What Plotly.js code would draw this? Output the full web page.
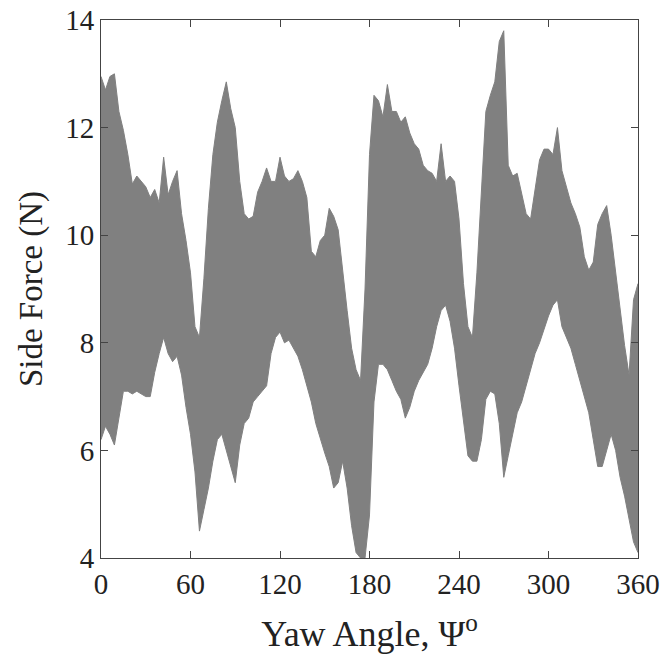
<!DOCTYPE html>
<html>
<head>
<meta charset="utf-8">
<script src="https://cdn.plot.ly/plotly-3.0.1.min.js"></script>
<style>html,body{margin:0;padding:0;background:#fff;}#chart{width:667px;height:667px;}</style>
</head>
<body>
<div id="chart"></div>
<script>
// Yaw angle samples (degrees)
var yawAngle = [0,3,6,9,12,15,18,21,24,27,30,33,36,39,42,45,48,51,54,57,
  60,63,66,69,72,75,78,81,84,87,90,93,96,99,102,105,108,111,114,117,
  120,123,126,129,132,135,138,141,144,147,150,153,156,159,162,165,168,171,174,177,
  180,183,186,189,192,195,198,201,204,207,210,213,216,219,222,225,228,231,234,237,
  240,243,246,249,252,255,258,261,264,267,270,273,276,279,282,285,288,291,294,297,
  300,303,306,309,312,315,318,321,324,327,330,333,336,339,342,345,348,351,354,357,360];
// Upper envelope of the side force signal (N)
var forceUpper = [12.95,12.7,12.95,13.0,12.3,11.95,11.5,10.95,11.1,11.0,10.9,10.7,10.85,10.6,11.45,10.75,11.0,11.2,10.4,9.9,
  9.3,8.3,8.1,9.2,10.5,11.5,12.1,12.5,12.85,12.35,12.0,11.0,10.4,10.3,10.35,10.8,11.0,11.25,11.0,11.0,
  11.45,11.1,11.0,11.05,11.2,11.0,10.7,9.7,9.6,9.9,10.0,10.5,10.35,10.1,9.3,8.6,7.9,7.5,7.3,9.0,
  11.5,12.6,12.5,12.2,12.8,12.3,12.3,12.1,12.2,11.9,11.7,11.6,11.3,11.2,11.15,11.0,11.7,11.0,11.1,11.0,
  10.3,9.1,8.3,8.1,9.3,10.85,12.3,12.6,12.85,13.6,13.8,11.3,11.1,11.15,10.8,10.4,10.3,10.9,11.4,11.6,
  11.6,11.5,12.0,11.2,10.9,10.6,10.4,10.15,9.6,9.35,9.5,10.2,10.4,10.55,10.0,9.3,8.6,7.95,7.4,8.8,9.1];
// Lower envelope of the side force signal (N)
var forceLower = [6.2,6.45,6.3,6.1,6.6,7.1,7.1,7.05,7.1,7.05,7.0,7.0,7.45,7.8,8.1,7.8,7.65,7.75,7.4,6.8,
  6.3,5.6,4.5,4.9,5.3,5.8,6.2,6.3,6.0,5.7,5.4,6.1,6.5,6.6,6.9,7.0,7.1,7.2,7.8,8.1,
  8.2,8.0,8.05,7.9,7.75,7.5,7.2,6.9,6.5,6.2,5.95,5.7,5.3,5.4,5.8,5.3,4.6,4.1,4.0,4.0,
  4.8,6.9,7.6,7.6,7.5,7.3,7.1,6.95,6.6,6.8,7.1,7.3,7.45,7.6,7.9,8.3,8.6,8.7,8.4,7.9,
  7.2,6.6,5.9,5.8,5.8,6.2,6.95,7.1,7.05,6.5,5.5,5.9,6.3,6.7,6.9,7.2,7.5,7.8,8.0,8.25,
  8.5,8.7,8.8,8.3,8.1,7.9,7.6,7.3,7.0,6.7,6.2,5.7,5.7,6.0,6.3,6.0,5.5,5.15,4.7,4.3,4.1];

var xTicks = [0,60,120,180,240,300,360];
var yTicks = [4,6,8,10,12,14];

var grey = '#808080';
var traces = [
  {x: yawAngle, y: forceUpper, type: 'scatter', mode: 'lines',
   line: {color: grey, width: 1}, hoverinfo: 'skip', showlegend: false},
  {x: yawAngle, y: forceLower, type: 'scatter', mode: 'lines', fill: 'tonexty',
   fillcolor: grey, line: {color: grey, width: 1}, hoverinfo: 'skip', showlegend: false}
];

var fontFam = '"Liberation Serif", "Times New Roman", serif';
var layout = {
  width: 667, height: 667,
  margin: {l: 101, r: 29, t: 20, b: 109},
  paper_bgcolor: '#fff', plot_bgcolor: '#fff',
  font: {family: fontFam, color: '#222', size: 28},
  showlegend: false,
  xaxis: {
    range: [0, 360], tickvals: xTicks, ticktext: xTicks.map(String),
    ticks: 'inside', ticklen: 7, tickcolor: '#444', tickwidth: 1,
    showline: true, linecolor: '#444', linewidth: 1, mirror: 'ticks',
    showgrid: false, zeroline: false,
    tickfont: {family: fontFam, size: 29, color: '#222'},
    title: {text: 'Yaw Angle, \u03A8<sup>o</sup>', font: {family: fontFam, size: 36, color: '#222'}, standoff: 22}
  },
  yaxis: {
    range: [4, 14], tickvals: yTicks, ticktext: yTicks.map(String),
    ticks: 'inside', ticklen: 7, tickcolor: '#444', tickwidth: 1,
    showline: true, linecolor: '#444', linewidth: 1, mirror: 'ticks',
    showgrid: false, zeroline: false,
    tickfont: {family: fontFam, size: 29, color: '#222'},
    title: {text: 'Side Force (N)', font: {family: fontFam, size: 33, color: '#222'}, standoff: 12}
  }
};

Plotly.newPlot('chart', traces, layout, {displayModeBar: false, staticPlot: true});
</script>
</body>
</html>
